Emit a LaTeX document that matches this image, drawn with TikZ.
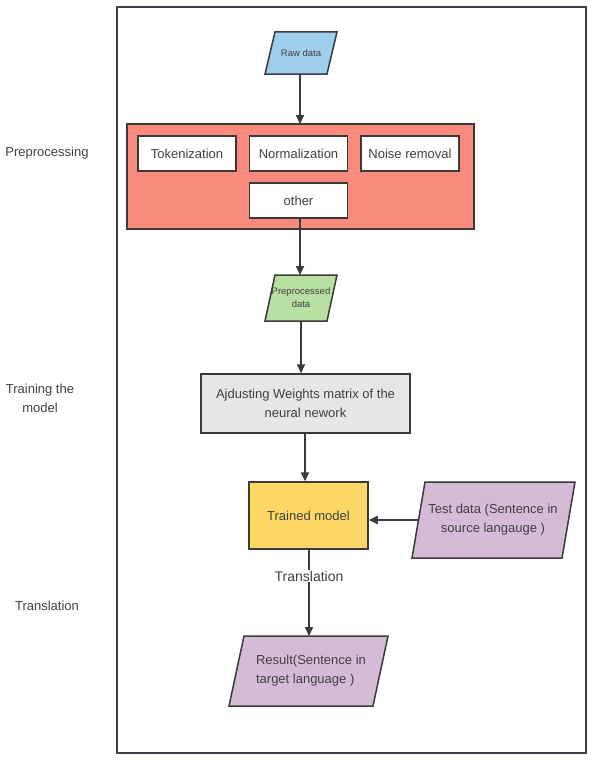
\documentclass[tikz,border=0pt]{standalone}
\usepackage{fontspec}
\setmainfont{Liberation Sans}
\usetikzlibrary{arrows.meta,calc}
\definecolor{frameC}{HTML}{3B4149}
\definecolor{lineC}{HTML}{3A3A3A}
\definecolor{txtC}{HTML}{404040}
\definecolor{rawC}{HTML}{9DCEEE}
\definecolor{preC}{HTML}{F88B7E}
\definecolor{ppdC}{HTML}{B8E0A2}
\definecolor{trnC}{HTML}{E6E6E6}
\definecolor{modC}{HTML}{FDD766}
\definecolor{purC}{HTML}{D5BCD6}
\tikzset{
  boxst/.style={draw=lineC, line width=1.5pt, fill=white, minimum width=98pt, minimum height=35pt, inner sep=0pt, text=txtC, font=\fontsize{13}{15}\selectfont},
  paratext/.style={inner sep=0pt, text=txtC, align=center},
  parast/.style={draw=lineC, line width=1.5pt},
  arr/.style={draw=lineC, line width=1.6pt, -{Triangle[length=9pt,width=8pt]}},
  plain/.style={draw=lineC, line width=1.6pt},
  sidelabel/.style={text=txtC, align=center, font=\fontsize{13}{19}\selectfont}
}
\begin{document}
\begin{tikzpicture}[x=1pt,y=-1pt]
\useasboundingbox (0,0) rectangle (596,768);
\fill[white] (0,0) rectangle (596,768);
% frame
\draw[frameC, line width=2.5pt] (117,7) rectangle (586,753);

% raw data parallelogram
\filldraw[parast, fill=rawC] (275,32) -- (337,32) -- (327,74) -- (265,74) -- cycle;
\node[paratext, font=\fontsize{9.5}{11}\selectfont] (raw) at (301,53) {Raw data};
\coordinate (rawb) at (300,74);

% preprocessing box
\filldraw[draw=lineC, line width=1.5pt, fill=preC] (127,124) rectangle (474,229);
\coordinate (pret) at (300,124);
\node[boxst] (tok) at (187,153.5) {Tokenization};
\node[boxst] (nor) at (298.5,153.5) {Normalization};
\node[boxst] (noi) at (410,153.5) {Noise removal};
\node[boxst] (oth) at (298.5,200.5) {other};

% preprocessed data
\filldraw[parast, fill=ppdC] (275,275) -- (337,275) -- (327,321) -- (265,321) -- cycle;
\node[paratext, font=\fontsize{9.5}{13}\selectfont] (ppd) at (301,298) {Preprocessed\\data};
\coordinate (ppdt) at (300,275);
\coordinate (ppdb) at (301,321);

% training box
\node[draw=lineC, line width=1.5pt, fill=trnC, minimum width=209pt, minimum height=59pt, inner sep=0pt, text=txtC, align=center, font=\fontsize{13}{19}\selectfont] (trn) at (305.5,403.5) {Ajdusting Weights matrix of the\\neural nework};
\coordinate (trnb) at (305,433);

% trained model
\node[draw=lineC, line width=1.5pt, fill=modC, minimum width=119pt, minimum height=67pt, inner sep=0pt, text=txtC, font=\fontsize{13}{15}\selectfont] (mod) at (308.5,515.5) {Trained model};

% test data
\filldraw[parast, fill=purC] (425,482) -- (575,482) -- (562,558) -- (412,558) -- cycle;
\node[paratext, font=\fontsize{13}{19}\selectfont] (tst) at (493,520) {Test data (Sentence in\\source langauge )};
\coordinate (tstl) at (418.5,520);

% result
\filldraw[parast, fill=purC] (244,636) -- (388,636) -- (373,706) -- (229,706) -- cycle;
\node[paratext, font=\fontsize{13}{19}\selectfont, align=left] (res) at (311,671) {Result(Sentence in\\target language )};
\coordinate (rest) at (309,636);

% translation label
\node[text=txtC, font=\fontsize{14}{16}\selectfont, inner sep=1pt] (trl) at (309,576) {Translation};

% connectors
\draw[arr] (rawb) -- (pret);
\draw[arr] (oth.south -| ppdt) -- (ppdt);
\draw[arr] (ppdb) -- (trn.north -| ppdb);
\draw[arr] (trnb) -- (mod.north -| trnb);
\draw[arr] (tstl) -- (mod.east |- tstl);
\draw[plain] (mod.south -| trl) -- (trl.north);
\draw[arr] (trl.south) -- (rest);

% side labels
\node[sidelabel] (lpre) at (47,153) {Preprocessing};
\node[sidelabel] (ltrn) at (40,398) {Training the\\model};
\node[sidelabel] (ltra) at (47,606) {Translation};
\end{tikzpicture}
\end{document}
